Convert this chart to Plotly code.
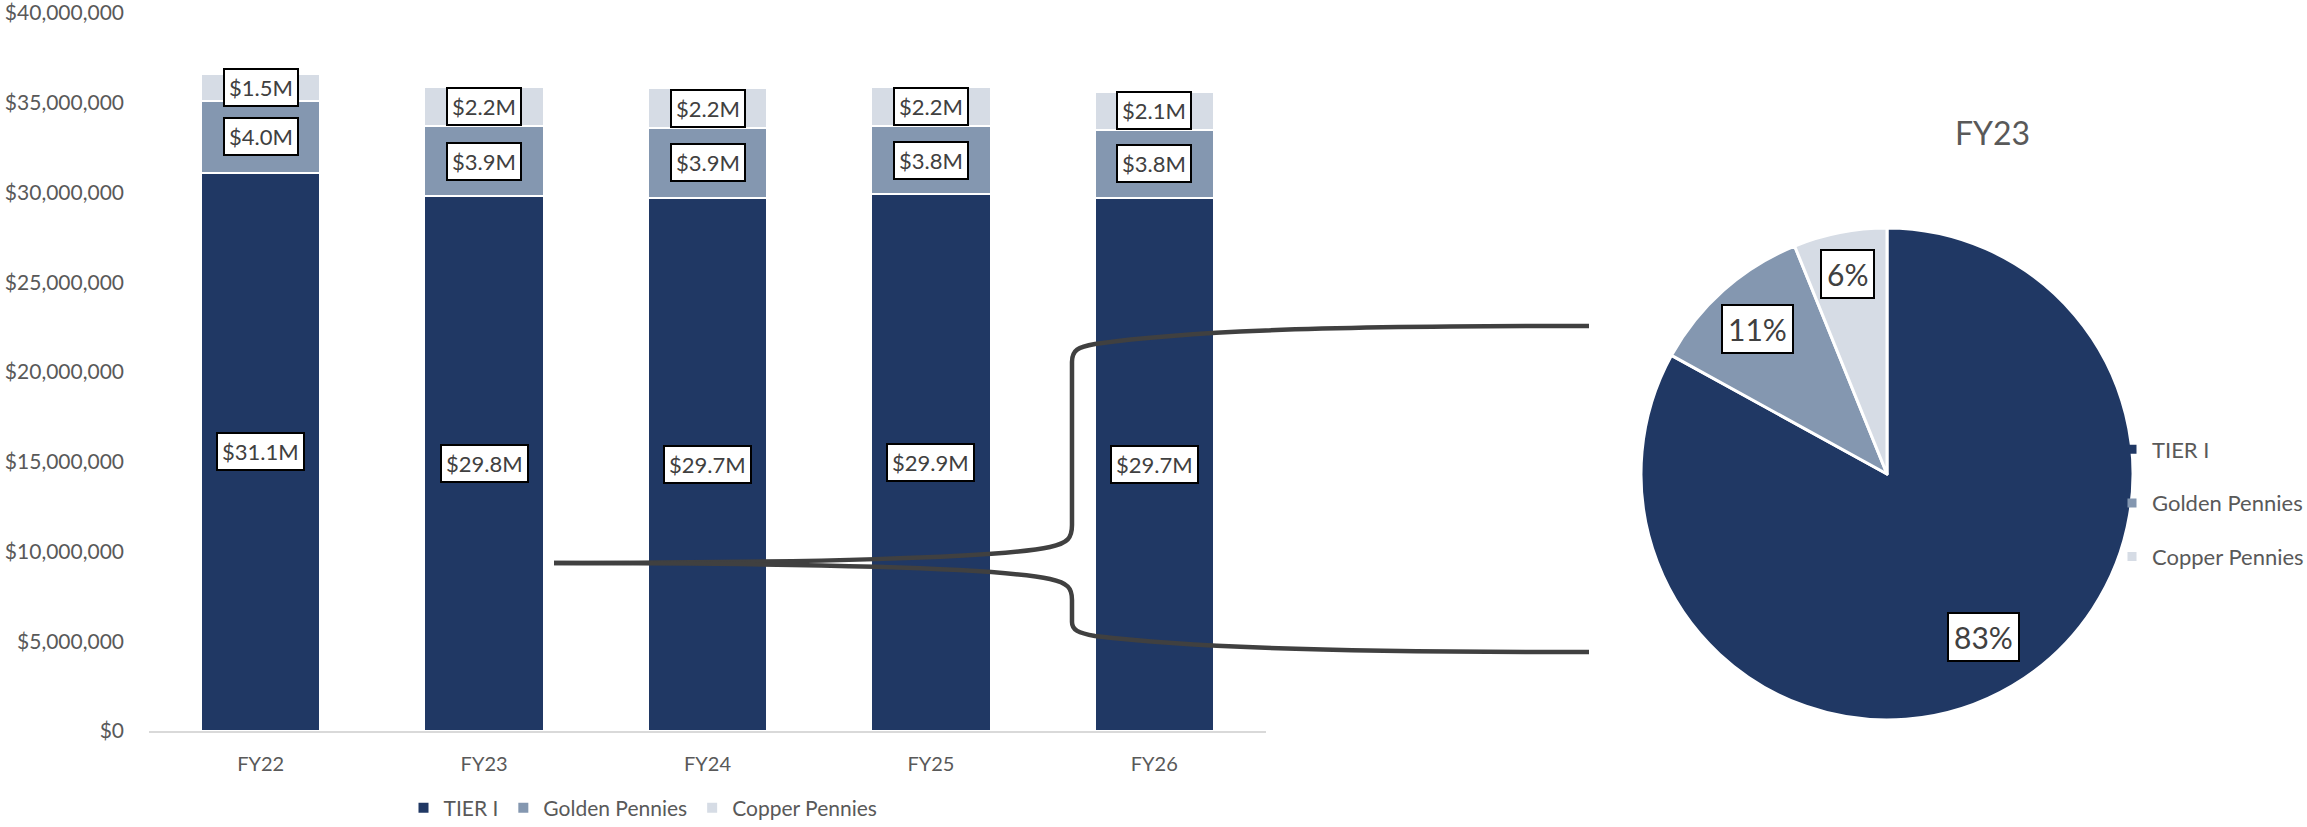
import plotly.graph_objects as go
import math

# ---------------- data ----------------
categories = ["FY22", "FY23", "FY24", "FY25", "FY26"]
series_names = ["TIER I", "Golden Pennies", "Copper Pennies"]
tier_i = [31.1, 29.8, 29.7, 29.9, 29.7]          # $M
golden_pennies = [4.0, 3.9, 3.9, 3.8, 3.8]        # $M
copper_pennies = [1.5, 2.2, 2.2, 2.2, 2.1]        # $M
y_ticks = [0, 5e6, 10e6, 15e6, 20e6, 25e6, 30e6, 35e6, 40e6]
y_tick_labels = ["$0", "$5,000,000", "$10,000,000", "$15,000,000", "$20,000,000",
                 "$25,000,000", "$30,000,000", "$35,000,000", "$40,000,000"]
pie_category = "FY23"

# ---------------- style ----------------
W, H = 2307, 827
colors = ["#203864", "#8497B0", "#D6DCE5"]
FONT = "Lato"
GREY = "#595959"
LABEL = "#404040"

def px(x, y):
    return x / W, 1 - y / H

series = [tier_i, golden_pennies, copper_pennies]

fig = go.Figure()

for name, vals, col in zip(series_names, series, colors):
    fig.add_trace(go.Bar(
        x=categories, y=[v * 1e6 for v in vals], name=name,
        marker=dict(color=col, line=dict(color="white", width=2)),
        legend="legend", hoverinfo="skip",
    ))

# pie for selected year
idx = categories.index(pie_category)
pie_vals = [s[idx] for s in series]
x0, _ = px(1641, 0)
x1, _ = px(2133, 0)
_, y0 = px(0, 720)
_, y1 = px(0, 228)
fig.add_trace(go.Pie(
    labels=series_names, values=pie_vals, sort=False, direction="clockwise",
    rotation=0, marker=dict(colors=colors, line=dict(color="white", width=3)),
    textinfo="none", showlegend=False, domain=dict(x=[x0, x1], y=[y0, y1]),
    hoverinfo="skip",
))

# legend entries for the pie (separate legend)
for name, col in zip(series_names, colors):
    fig.add_trace(go.Scatter(
        x=[None], y=[None], mode="markers", name=name,
        marker=dict(symbol="square", size=9, color=col),
        legend="legend2", legendgroup="pie_" + name, showlegend=True,
    ))

annotations = []
# bar value labels
for ci, cat in enumerate(categories):
    base = 0.0
    for s in series:
        v = s[ci]
        annotations.append(dict(
            x=cat, y=(base + v / 2) * 1e6, xref="x", yref="y",
            xanchor="center", yanchor="middle",
            text=f"${v:.1f}M", showarrow=False,
            font=dict(family=FONT, size=22, color=LABEL),
            bgcolor="white", bordercolor="black", borderwidth=2, borderpad=4,
        ))
        base += v

# pie percentage labels
cx, cy, R = 1887, 474, 246
radial = [0.77, 0.79, 0.83]
total = sum(pie_vals)
cum = 0.0
for v, rf in zip(pie_vals, radial):
    frac = v / total
    mid = (cum + frac / 2) * 2 * math.pi
    cum += frac
    lx_ = cx + rf * R * math.sin(mid)
    ly_ = cy - rf * R * math.cos(mid)
    ax, ay = px(lx_, ly_)
    annotations.append(dict(
        x=ax, y=ay, xref="paper", yref="paper", text=f"{round(frac*100)}%",
        xanchor="center", yanchor="middle",
        showarrow=False, font=dict(family=FONT, size=30, color=LABEL),
        bgcolor="white", bordercolor="black", borderwidth=2, borderpad=5,
    ))

# pie title
tx, ty = px(1992, 132)
annotations.append(dict(
    x=tx, y=ty, xref="paper", yref="paper", text=pie_category, showarrow=False,
    xanchor="center", yanchor="middle",
    font=dict(family=FONT, size=32, color=GREY),
))

# connector curves
def path(points_cmds):
    out = []
    for cmd, pts in points_cmds:
        coords = " ".join(f"{px(x, y)[0]:.5f},{px(x, y)[1]:.5f}" for x, y in pts)
        out.append(f"{cmd}{coords}")
    return " ".join(out)

upper = path([
    ("M", [(554, 563)]),
    ("C", [(800, 563), (1000, 558), (1050, 547)]),
    ("C", [(1068, 543), (1072, 538), (1072, 525)]),
    ("L", [(1072, 362)]),
    ("C", [(1072, 350), (1078, 347), (1095, 344)]),
    ("C", [(1180, 332), (1300, 326), (1589, 326)]),
])
lower = path([
    ("M", [(554, 563)]),
    ("C", [(800, 563), (1000, 568), (1050, 579)]),
    ("C", [(1068, 583), (1072, 588), (1072, 600)]),
    ("L", [(1072, 622)]),
    ("C", [(1072, 630), (1078, 633), (1095, 636)]),
    ("C", [(1180, 646), (1300, 652), (1589, 652)]),
])
shapes = []
for p in (upper, lower):
    shapes.append(dict(type="path", path=p, xref="paper", yref="paper",
                       line=dict(color="#404040", width=4.5)))

dx0, _ = px(149, 0)
dx1, _ = px(1266, 0)
_, dy0 = px(0, 731)
_, dy1 = px(0, 13)
lgx, lgy = px(643, 808)
l2x, l2y = px(2112, 503)

fig.update_layout(
    width=W, height=H, margin=dict(l=0, r=0, t=0, b=0, autoexpand=False),
    paper_bgcolor="white", plot_bgcolor="white",
    barmode="stack", bargap=0.465,
    font=dict(family=FONT, color=GREY),
    xaxis=dict(domain=[dx0, dx1], showline=True, linecolor="#D9D9D9",
               linewidth=2, showgrid=False, ticks="",
               tickfont=dict(family=FONT, size=20, color=GREY),
               ticklabelstandoff=14, fixedrange=True, automargin=False),
    yaxis=dict(domain=[dy0, dy1], range=[0, 40e6], tickmode="array",
               tickvals=y_ticks, ticktext=y_tick_labels, showgrid=False,
               zeroline=False, showline=False, ticks="",
               tickfont=dict(family=FONT, size=21, color=GREY),
               ticklabelstandoff=24, ticklabeloverflow="allow",
               fixedrange=True, automargin=False),
    legend=dict(orientation="h", x=lgx, y=lgy, xanchor="center", yanchor="middle",
                traceorder="normal",
                font=dict(family=FONT, size=21, color=GREY),
                bgcolor="rgba(0,0,0,0)"),
    legend2=dict(orientation="v", x=l2x, y=l2y, xanchor="left", yanchor="middle",
                 traceorder="grouped",
                 font=dict(family=FONT, size=22, color=GREY),
                 tracegroupgap=22, bgcolor="rgba(0,0,0,0)"),
    annotations=annotations, shapes=shapes, showlegend=True,
)

fig.write_html("out.html")
